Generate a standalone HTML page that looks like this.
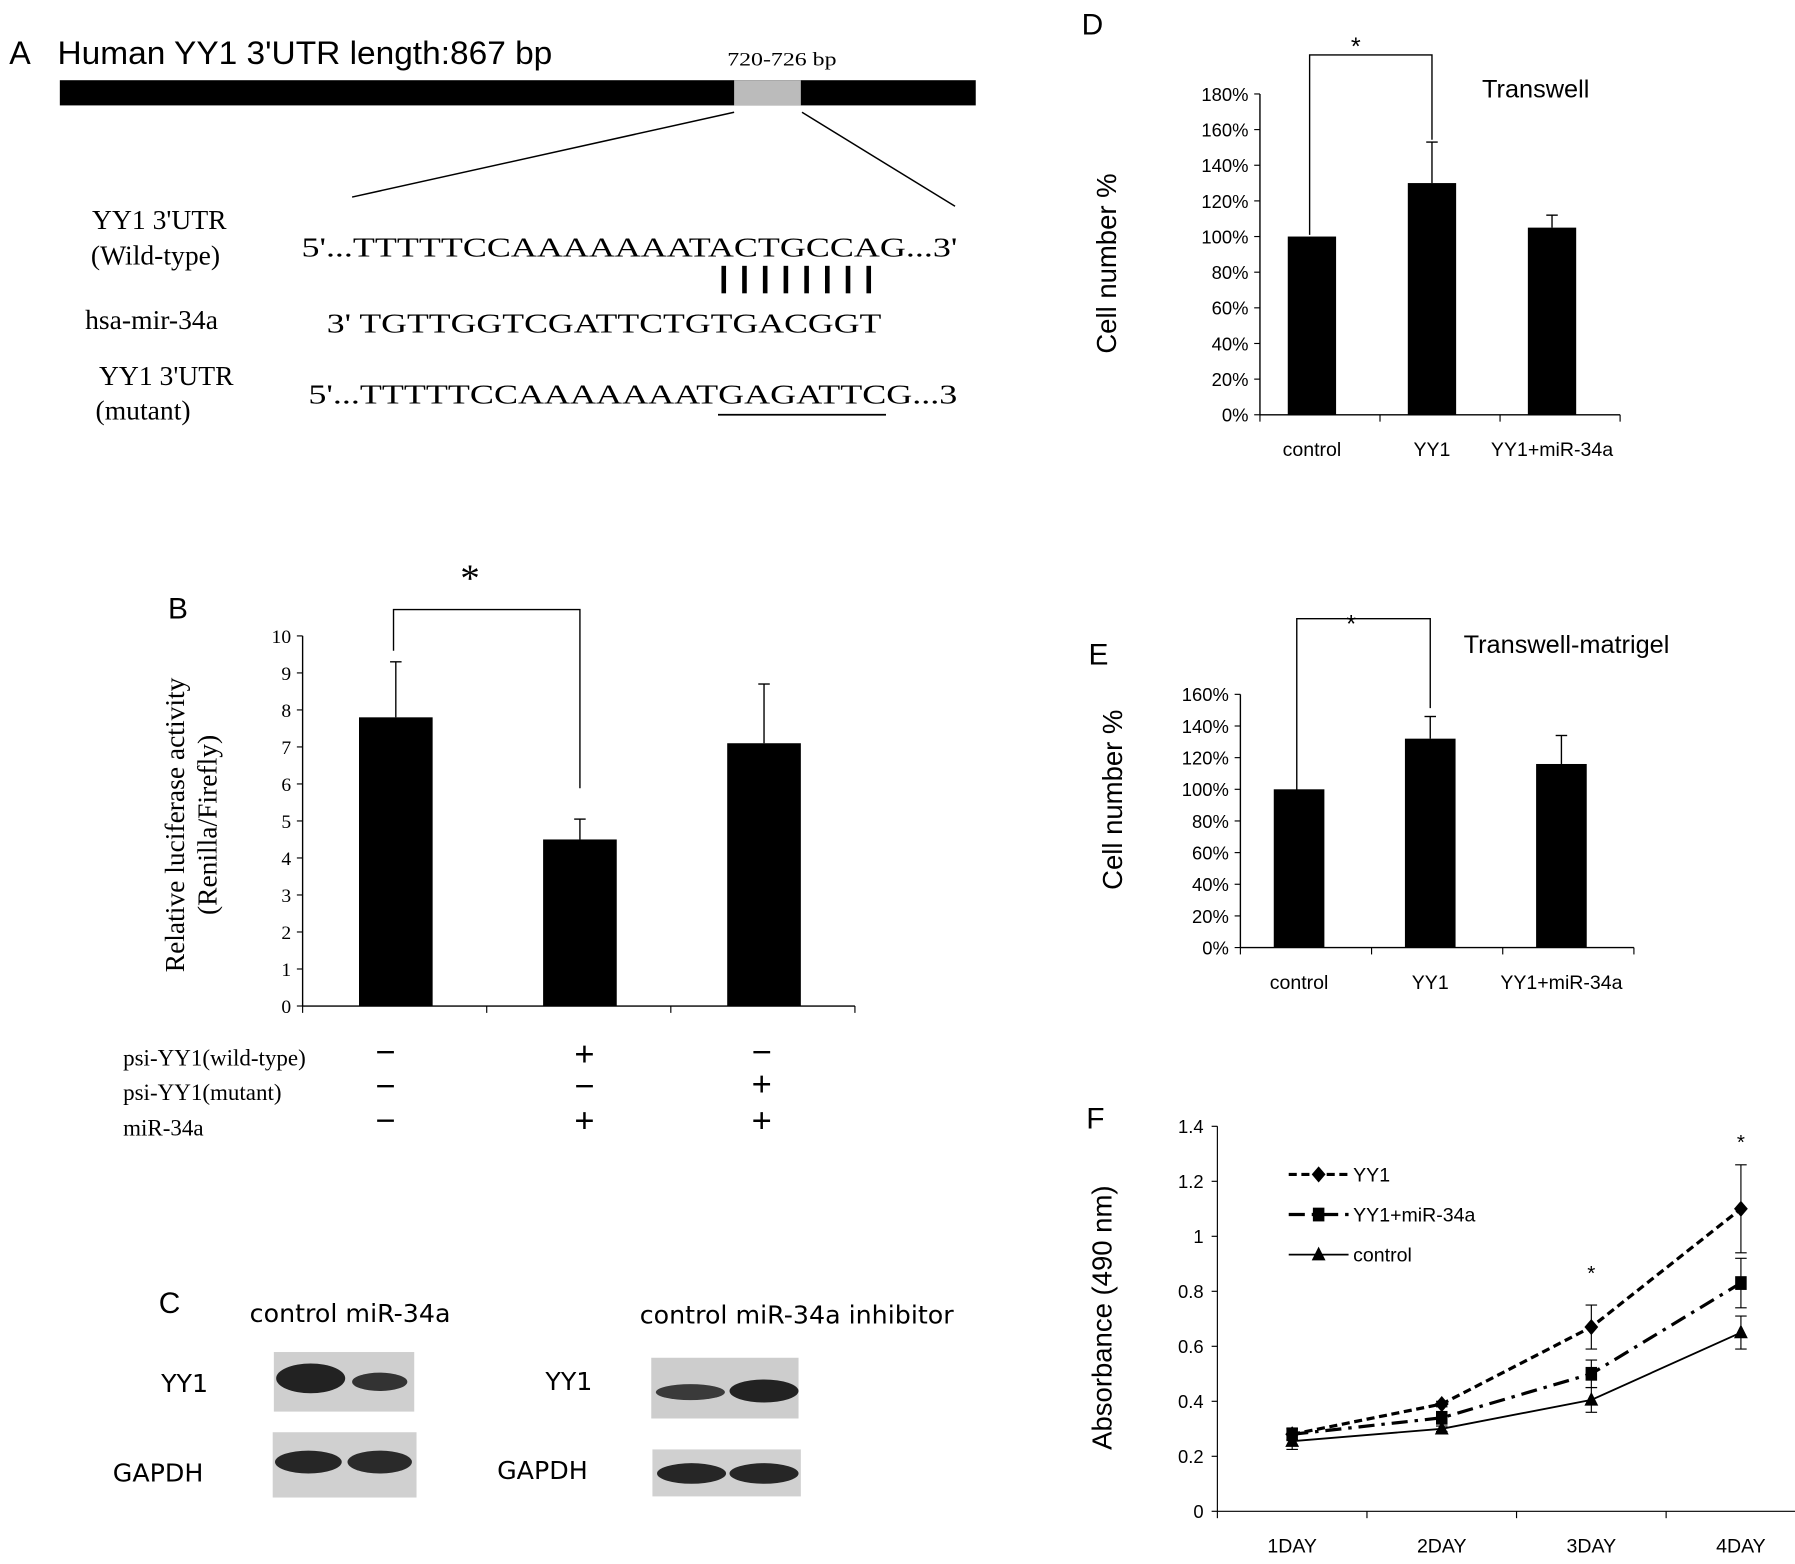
<!DOCTYPE html>
<html><head><meta charset="utf-8"><style>
html,body{margin:0;padding:0;background:#fff;}
svg{display:block;}
.sans{font-family:"Liberation Sans",sans-serif;}
.serif{font-family:"Liberation Serif",serif;}
</style></head><body>
<svg id="fig" width="1795" height="1564" viewBox="0 0 1560 1365" preserveAspectRatio="none" xmlns="http://www.w3.org/2000/svg">
<rect width="1560" height="1365" fill="#fff"/>
<g>
<text x="8" y="56" class="sans" font-size="28">A</text>
<text x="50" y="56" class="sans" font-size="28" textLength="430" lengthAdjust="spacingAndGlyphs">Human YY1 3'UTR length:867 bp</text>
<text x="632" y="57" class="serif" font-size="17" textLength="95" lengthAdjust="spacingAndGlyphs">720-726 bp</text>
<rect x="52" y="70" width="796" height="22" fill="#000"/>
<rect x="638" y="70" width="58" height="22" fill="#bbb"/>
<line x1="638" y1="98" x2="306" y2="172" stroke="#000" stroke-width="1.3"/>
<line x1="697" y1="98" x2="830" y2="180" stroke="#000" stroke-width="1.3"/>
<g class="serif" font-size="24">
<text x="80" y="200">YY1 3'UTR</text>
<text x="79" y="231">(Wild-type)</text>
<text x="262" y="224" textLength="570" lengthAdjust="spacingAndGlyphs">5'...TTTTTCCAAAAAAATACTGCCAG...3'</text>
<text x="74" y="287">hsa-mir-34a</text>
<text x="284" y="290" textLength="482" lengthAdjust="spacingAndGlyphs">3' TGTTGGTCGATTCTGTGACGGT</text>
<text x="86" y="336">YY1 3'UTR</text>
<text x="83" y="366">(mutant)</text>
<text x="268" y="352" textLength="564" lengthAdjust="spacingAndGlyphs">5'...TTTTTCCAAAAAAATGAGATTCG...3</text>
</g>
<line x1="624" y1="362" x2="770" y2="362" stroke="#000" stroke-width="1.5"/>
<g stroke="#000" stroke-width="4">
<line x1="629" y1="232" x2="629" y2="256"/><line x1="647" y1="232" x2="647" y2="256"/><line x1="665" y1="232" x2="665" y2="256"/><line x1="683" y1="232" x2="683" y2="256"/><line x1="701" y1="232" x2="701" y2="256"/><line x1="719" y1="232" x2="719" y2="256"/><line x1="737" y1="232" x2="737" y2="256"/><line x1="755" y1="232" x2="755" y2="256"/>
</g>
</g>

<g id="panelB">
<text x="146" y="540" class="sans" font-size="26">B</text>
<text x="400" y="516" class="serif" font-size="34">*</text>
<g transform="translate(160,720) rotate(-90)" class="serif" font-size="24" text-anchor="middle">
<text x="0" y="0">Relative luciferase activity</text><text x="0" y="28">(Renilla/Firefly)</text></g>
<g class="serif" font-size="20">
<text x="107" y="930">psi-YY1(wild-type)</text>
<text x="107" y="960">psi-YY1(mutant)</text>
<text x="107" y="991">miR-34a</text>
</g>
<g class="sans" font-size="30" text-anchor="middle">
<text x="335" y="928">−</text><text x="508" y="930">+</text><text x="662" y="928">−</text>
<text x="335" y="958">−</text><text x="508" y="958">−</text><text x="662" y="956">+</text>
<text x="335" y="988">−</text><text x="508" y="988">+</text><text x="662" y="988">+</text>
</g>
</g>

<g>
<text x="138" y="1146" class="sans" font-size="26">C</text>
<g font-family="'DejaVu Sans',sans-serif" font-size="22">
<text x="217" y="1154">control miR-34a</text>
<text x="140" y="1215">YY1</text>
<text x="98" y="1293">GAPDH</text>
<text x="556" y="1155">control  miR-34a inhibitor</text>
<text x="474" y="1213">YY1</text>
<text x="432" y="1291">GAPDH</text>
</g>
<g>
<rect x="238" y="1180" width="122" height="52" fill="#cfcfcf"/>
<ellipse cx="270" cy="1203" rx="30" ry="13" fill="#222"/>
<ellipse cx="330" cy="1206" rx="24" ry="8" fill="#333"/>
<rect x="237" y="1250" width="125" height="57" fill="#d0d0d0"/>
<ellipse cx="268" cy="1276" rx="29" ry="10" fill="#262626"/>
<ellipse cx="330" cy="1276" rx="28" ry="10" fill="#2a2a2a"/>
<rect x="566" y="1185" width="128" height="53" fill="#cdcdcd"/>
<ellipse cx="600" cy="1215" rx="30" ry="7" fill="#3a3a3a"/>
<ellipse cx="664" cy="1214" rx="30" ry="10" fill="#222"/>
<rect x="567" y="1265" width="129" height="41" fill="#d0d0d0"/>
<ellipse cx="601" cy="1286" rx="30" ry="9" fill="#262626"/>
<ellipse cx="664" cy="1286" rx="30" ry="9" fill="#262626"/>
</g>
</g>

<g class="sans">
<text x="940" y="30" font-size="26">D</text>
<text x="1288" y="85" font-size="22">Transwell</text>
<text x="1174" y="48" font-size="22">*</text>
<text x="946" y="580" font-size="26">E</text>
<text x="1272" y="570" font-size="22">Transwell-matrigel</text>
<text x="1170" y="552" font-size="22">*</text>
<text x="944" y="985" font-size="26">F</text>
<text transform="translate(970,230) rotate(-90)" text-anchor="middle" font-size="24">Cell number  %</text>
<text transform="translate(975,698) rotate(-90)" text-anchor="middle" font-size="24">Cell number  %</text>
<text transform="translate(966,1150) rotate(-90)" text-anchor="middle" font-size="24">Absorbance (490 nm)</text>
</g>
<g id="charts"></g>
</svg>
<script>
const bCategories = ["1","2","3"];
const bValues = [7.8, 4.5, 7.1];
const bErrors = [1.5, 0.55, 1.6];
const bTicks = [0,1,2,3,4,5,6,7,8,9,10];
const dCategories = ["control","YY1","YY1+miR-34a"];
const dValues = [100, 130, 105];
const dErrors = [0, 23, 7];
const dTicks = [0,20,40,60,80,100,120,140,160,180];
const eCategories = ["control","YY1","YY1+miR-34a"];
const eValues = [100, 132, 116];
const eErrors = [0, 14, 18];
const eTicks = [0,20,40,60,80,100,120,140,160];
const fCategories = ["1DAY","2DAY","3DAY","4DAY"];
const fSeriesNames = ["YY1","YY1+miR-34a","control"];
const fYY1 = [0.28, 0.39, 0.67, 1.10];
const fYY1Err = [0.02, 0.01, 0.08, 0.16];
const fMiR = [0.28, 0.34, 0.50, 0.83];
const fMiRErr = [0.02, 0.02, 0.05, 0.09];
const fCtrl = [0.255, 0.30, 0.405, 0.65];
const fCtrlErr = [0.03, 0.01, 0.045, 0.06];
const fTicks = [0,0.2,0.4,0.6,0.8,1,1.2,1.4];
const fTickLabels = ["0","0.2","0.4","0.6","0.8","1","1.2","1.4"];

const NS="http://www.w3.org/2000/svg";
const root=document.getElementById('charts');
function mk(tag,attrs,parent){const e=document.createElementNS(NS,tag);for(const k in attrs)e.setAttribute(k,attrs[k]);(parent||root).appendChild(e);return e;}

function barChart(cfg){
  const g=mk('g',{});
  
  
  const n=cfg.values.length, max=cfg.ticks[cfg.ticks.length-1];
  const y=v=>cfg.y0-(v/max)*(cfg.y0-cfg.y1);
  const bw=(cfg.x1-cfg.x0)/n;
  const xc=i=>cfg.x0+bw*(i+0.5)+(cfg.shift||0);
  mk('line',{x1:cfg.x0,y1:cfg.y1,x2:cfg.x0,y2:cfg.y0,stroke:'#000','stroke-width':1.2},g);
  mk('line',{x1:cfg.x0,y1:cfg.y0,x2:cfg.x1,y2:cfg.y0,stroke:'#000','stroke-width':1.2},g);
  cfg.ticks.forEach((t,i)=>{
    mk('line',{x1:cfg.x0-5,y1:y(t),x2:cfg.x0,y2:y(t),stroke:'#000'},g);
    const tx=mk('text',{x:cfg.x0-10,y:y(t)+6,'text-anchor':'end','font-size':cfg.tickFont,'font-family':cfg.font},g);
    tx.textContent=cfg.tickFmt(t);
  });
  for(let i=0;i<=n;i++) mk('line',{x1:cfg.x0+bw*i,y1:cfg.y0,x2:cfg.x0+bw*i,y2:cfg.y0+6,stroke:'#000'},g);
  cfg.values.forEach((v,i)=>{
    const b=mk('rect',{x:xc(i)-cfg.barW/2,y:y(v),width:cfg.barW,height:cfg.y0-y(v),fill:'#000'},g);
    
    
    const e=cfg.errors[i];
    if(e>0){
      mk('line',{x1:xc(i),y1:y(v),x2:xc(i),y2:y(v+e),stroke:'#000','stroke-width':1.2},g);
      mk('line',{x1:xc(i)-5,y1:y(v+e),x2:xc(i)+5,y2:y(v+e),stroke:'#000','stroke-width':1.2},g);
    }
    if(cfg.labels){
      const l=mk('text',{x:xc(i),y:cfg.y0+36,'text-anchor':'middle','font-size':cfg.labelFont,'font-family':cfg.font},g);
      l.textContent=cfg.labels[i];
    }
  });
  const a=cfg.bracket;
  mk('polyline',{points:`${xc(0)-2},${a.startY} ${xc(0)-2},${a.top} ${xc(1)},${a.top} ${xc(1)},${a.endY}`,fill:'none',stroke:'#000','stroke-width':1.2},g);
}

barChart({name:'chart-b',values:bValues,errors:bErrors,ticks:bTicks,x0:263,x1:743,y0:878,y1:555,barW:64,shift:1,
  tickFmt:t=>String(t),tickFont:17,font:'Liberation Serif, serif',bracket:{startY:568,top:532,endY:688}});
barChart({name:'chart-d',values:dValues,errors:dErrors,ticks:dTicks,labels:dCategories,x0:1095,x1:1408,y0:362,y1:82,barW:42,shift:-7,
  tickFmt:t=>t+'%',tickFont:16,labelFont:17,font:'Liberation Sans, sans-serif',bracket:{startY:205,top:48,endY:122}});
barChart({name:'chart-e',values:eValues,errors:eErrors,ticks:eTicks,labels:eCategories,x0:1078,x1:1420,y0:827,y1:606,barW:44,shift:-6,
  tickFmt:t=>t+'%',tickFont:16,labelFont:17,font:'Liberation Sans, sans-serif',bracket:{startY:690,top:540,endY:618}});

(function(){
  const g=mk('g',{});
  
  
  const x0=1058,x1=1578,y0=1319,y1=983,max=1.4;
  const y=v=>y0-(v/max)*(y0-y1);
  const bw=(x1-x0)/fCategories.length;
  const xc=i=>x0+bw*(i+0.5);
  mk('line',{x1:x0,y1:y1,x2:x0,y2:y0,stroke:'#000'},g);
  mk('line',{x1:x0,y1:y0,x2:x1,y2:y0,stroke:'#000'},g);
  fTicks.forEach((t,i)=>{
    mk('line',{x1:x0-5,y1:y(t),x2:x0,y2:y(t),stroke:'#000'},g);
    const tx=mk('text',{x:x0-12,y:y(t)+6,'text-anchor':'end','font-size':16,'font-family':'Liberation Sans, sans-serif'},g);
    tx.textContent=fTickLabels[i];
  });
  for(let i=0;i<=fCategories.length;i++) mk('line',{x1:x0+bw*i,y1:y0,x2:x0+bw*i,y2:y0+6,stroke:'#000'},g);
  fCategories.forEach((c,i)=>{const t=mk('text',{x:xc(i),y:y0+36,'text-anchor':'middle','font-size':17,'font-family':'Liberation Sans, sans-serif'},g);t.textContent=c;});
  const series=[[fYY1,fYY1Err,'7,4','diamond',2.8],[fMiR,fMiRErr,'14,6,3,6','square',2.8],[fCtrl,fCtrlErr,'','triangle',1.6]];
  function marker(kind,cx,cy,par){
    if(kind==='diamond') return mk('polygon',{points:`${cx},${cy-7} ${cx+6},${cy} ${cx},${cy+7} ${cx-6},${cy}`,fill:'#000'},par);
    if(kind==='square') return mk('rect',{x:cx-5,y:cy-6,width:10,height:12,fill:'#000'},par);
    return mk('polygon',{points:`${cx},${cy-7} ${cx+6},${cy+5} ${cx-6},${cy+5}`,fill:'#000'},par);
  }
  series.forEach((s,si)=>{
    const [vals,errs,dash,kind,sw]=s;
    const pl=mk('polyline',{points:vals.map((v,i)=>xc(i)+','+y(v)).join(' '),fill:'none',stroke:'#000','stroke-width':sw,'stroke-dasharray':dash},g);
    
    
    vals.forEach((v,i)=>{
      const e=errs[i];
      mk('line',{x1:xc(i),y1:y(v-e),x2:xc(i),y2:y(v+e),stroke:'#000'},g);
      mk('line',{x1:xc(i)-5,y1:y(v-e),x2:xc(i)+5,y2:y(v-e),stroke:'#000'},g);
      mk('line',{x1:xc(i)-5,y1:y(v+e),x2:xc(i)+5,y2:y(v+e),stroke:'#000'},g);
      const m=marker(kind,xc(i),y(v),g);
      
      
    });
    const ly=1025+si*35;
    const lg=mk('g',{},g);
    
    
    mk('line',{x1:1120,y1:ly,x2:1172,y2:ly,stroke:'#000','stroke-width':sw,'stroke-dasharray':dash},lg);
    marker(kind,1146,ly,lg);
    const lt=mk('text',{x:1176,y:ly+6,'font-size':17,'font-family':'Liberation Sans, sans-serif'},lg);
    lt.textContent=fSeriesNames[si];
  });
  const s1=mk('text',{x:xc(2),y:y(fYY1[2]+fYY1Err[2])-22,'text-anchor':'middle','font-size':18,'font-family':'Liberation Sans, sans-serif'},g);s1.textContent='*';
  const s2=mk('text',{x:xc(3),y:y(fYY1[3]+fYY1Err[3])-14,'text-anchor':'middle','font-size':18,'font-family':'Liberation Sans, sans-serif'},g);s2.textContent='*';
})();
</script>
</body></html>
